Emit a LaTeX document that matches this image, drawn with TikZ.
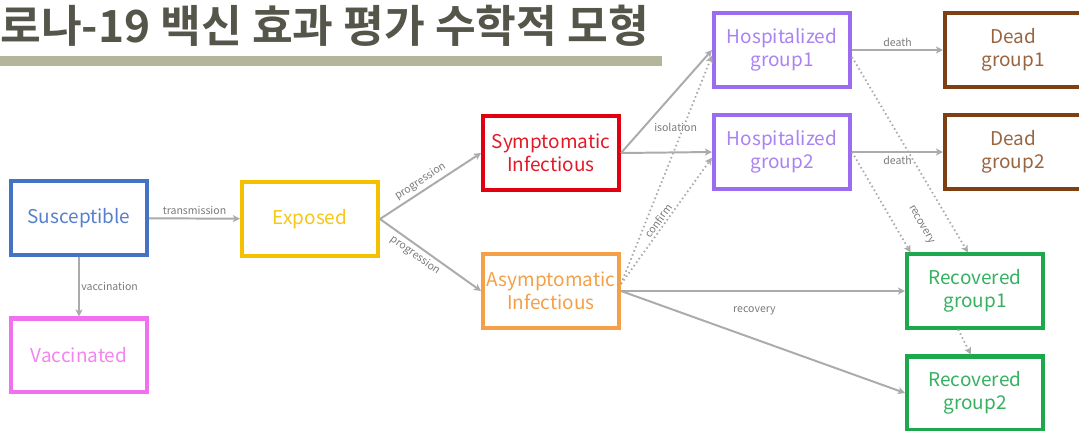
\documentclass[tikz,border=0pt]{standalone}
\usepackage{fontspec}
\usepackage{xcolor}
\usepackage{tikz}
\usetikzlibrary{arrows,arrows.meta,calc,positioning}
\newfontfamily\krfont{Noto Sans CJK KR}[BoldFont={Noto Sans CJK KR Bold}]

\definecolor{s_blue}{HTML}{4472C4}
\definecolor{v_pink}{HTML}{F070EE}
\definecolor{e_gold}{HTML}{F5C000}
\definecolor{i_red}{HTML}{E00010}
\definecolor{a_orange}{HTML}{F4A048}
\definecolor{h_purple}{HTML}{9B6CF0}
\definecolor{d_brown}{HTML}{7E3F12}
\definecolor{r_green}{HTML}{1EA84E}
\definecolor{flow_gray}{HTML}{ABABAB}
\definecolor{rate_gray}{HTML}{7A7A7A}
\definecolor{title_gray}{HTML}{55554A}
\definecolor{bar_khaki}{HTML}{B5B59C}

\begin{document}
\begin{tikzpicture}[x=0.025cm, y=-0.025cm, font=\krfont,
box/.style={draw, line width=0.1cm, minimum width=3.4cm, minimum height=1.825cm, align=center, fill=white, inner sep=0pt,
font=\krfont\fontsize{13.5}{16.5}\selectfont},
box_s/.style={box, draw=s_blue, text=s_blue!90},
box_v/.style={box, draw=v_pink, text=v_pink!85},
box_e/.style={box, draw=e_gold, text=e_gold!90},
box_i/.style={box, draw=i_red, text=i_red!90},
box_a/.style={box, draw=a_orange, text=a_orange},
box_h/.style={box, draw=h_purple, text=h_purple!85},
box_d/.style={box, draw=d_brown, text=d_brown!80},
box_r/.style={box, draw=r_green, text=r_green!90},
flow/.style={color=flow_gray, line width=1.4pt, -{Stealth[length=5pt, width=5pt, inset=1.2pt]}},
maybe/.style={flow, line width=1.3pt, dash pattern=on 1.1pt off 2pt},
rate/.style={text=rate_gray, inner sep=2pt, font=\krfont\fontsize{7.5}{9}\selectfont}]

   \useasboundingbox (0,0) rectangle (1079,430);

   % heading
   \node[anchor=base west, inner sep=0pt, text=title_gray, font=\krfont\bfseries\fontsize{31.5}{36}\selectfont]
       (title) at (0,42) {로나-19 백신 효과 평가 수학적 모형};
   \fill[bar_khaki] (0,56) rectangle (662,66);

   % compartments
   \node[box_s] (S) at (79,218) {Susceptible};
   \node[box_v] (V) at (79,355) {Vaccinated};
   \node[box_e] (E) at (310,219) {Exposed};
   \node[box_i] (I_s) at (551,153) {Symptomatic\\Infectious};
   \node[box_a] (I_a) at (551,291) {Asymptomatic\\Infectious};
   \node[box_h] (H1) at (782,50) {Hospitalized\\group1};
   \node[box_h] (H2) at (782,152) {Hospitalized\\group2};
   \node[box_d] (D1) at (1013,50) {Dead\\group1};
   \node[box_d] (D2) at (1013,152) {Dead\\group2};
   \node[box_r] (R1) at (975,291) {Recovered\\group1};
   \node[box_r] (R2) at (975,393) {Recovered\\group2};

   % transitions
   \path [flow] (S) edge node[rate, above] {transmission} (E)
                (S) edge node[rate, right, inner sep=1pt] {vaccination} (V);

   \path [flow] (E.east) edge node[rate, sloped, above, pos=0.45] {progression} (I_s.west)
                (E.east) edge node[rate, sloped, below, pos=0.4] {progression} (I_a.west);

   \path [flow] (I_s.east) edge (H1.west)
                (I_s.east) edge node[rate, above=0.42cm, pos=0.6] {isolation} (H2.west);

   \path [maybe] ([yshift=5pt]I_a.east) edge ([yshift=-4pt]H1.west)
                 ([yshift=5pt]I_a.east) edge node[rate, sloped, above, inner sep=1pt, pos=0.47] {confirm} ([yshift=-4pt]H2.west);

   \path [flow] (I_a.east) edge node[rate, below=0.3cm, pos=0.47] {recovery} (R1.west)
                (I_a.east) edge (R2.west);

   \path [flow] (H1.east) edge node[rate, above] {death} (D1.west)
                (H2.east) edge node[rate, below] {death} (D2.west);

   \path [maybe] ([yshift=-5pt]H1.east) edge ([xshift=-5pt]R1.north)
                 (H2.east) edge node[rate, sloped, above=0.38cm, pos=0.84] {recovery} ([xshift=4pt]R1.north west)
                 ([xshift=-12pt]R1.south) edge ([xshift=-3pt]R2.north);

\end{tikzpicture}
\end{document}
